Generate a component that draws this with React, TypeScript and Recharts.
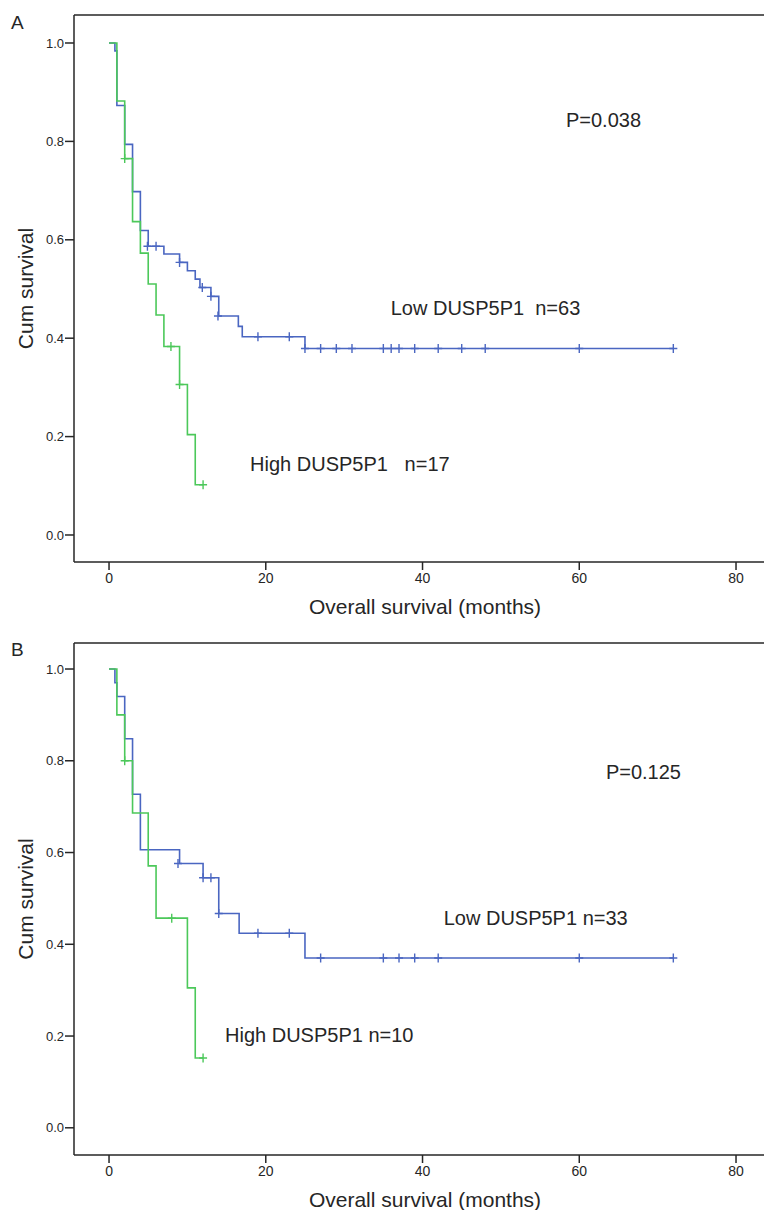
import { ComposedChart, Line, Scatter, XAxis, YAxis } from 'recharts'

const FONT = 'Liberation Sans, Arial, sans-serif'
const BLUE = '#4a66c1'
const GREEN = '#4cc85a'
const INK = '#262626'

const monthTicks = [0, 20, 40, 60, 80]
const survTicks = [0, 0.2, 0.4, 0.6, 0.8, 1.0]
const monthDomain = [-4.47, 83.57]

// panel A, low DUSP5P1 (n=63)
const lowATimes = [0, 0.75, 1, 2, 3, 4, 5, 7, 9, 10, 11, 11.6, 13, 14, 16.5, 17, 25, 72]
const lowASurv = [1.0, 0.984, 0.873, 0.794, 0.698, 0.619, 0.587, 0.571, 0.554, 0.537, 0.52, 0.503, 0.485, 0.445, 0.424, 0.403, 0.379, 0.379]
const lowACensorTimes = [4.9, 6, 9, 11.9, 13, 13.9, 19, 23, 25, 27, 29, 31, 35, 36, 37, 39, 42, 45, 48, 60, 72]
const lowACensorSurv = [0.587, 0.587, 0.554, 0.503, 0.485, 0.445, 0.403, 0.403, 0.379, 0.379, 0.379, 0.379, 0.379, 0.379, 0.379, 0.379, 0.379, 0.379, 0.379, 0.379, 0.379]

// panel A, high DUSP5P1 (n=17)
const highATimes = [0, 1, 2, 3, 4, 5, 6, 7, 9, 10, 11, 12]
const highASurv = [1.0, 0.882, 0.765, 0.637, 0.573, 0.51, 0.447, 0.383, 0.306, 0.204, 0.102, 0.102]
const highACensorTimes = [2, 7.9, 9, 12]
const highACensorSurv = [0.765, 0.383, 0.306, 0.102]

// panel B, low DUSP5P1 (n=33)
const lowBTimes = [0, 0.75, 1, 2, 3, 4, 9, 12, 14, 16.6, 25, 72]
const lowBSurv = [1.0, 0.97, 0.94, 0.848, 0.727, 0.606, 0.576, 0.545, 0.467, 0.424, 0.37, 0.37]
const lowBCensorTimes = [8.8, 12, 13, 14, 19, 23, 27, 35, 37, 39, 42, 60, 72]
const lowBCensorSurv = [0.576, 0.545, 0.545, 0.467, 0.424, 0.424, 0.37, 0.37, 0.37, 0.37, 0.37, 0.37, 0.37]

// panel B, high DUSP5P1 (n=10)
const highBTimes = [0, 1, 2, 3, 5, 6, 10, 11, 12]
const highBSurv = [1.0, 0.9, 0.8, 0.686, 0.571, 0.457, 0.305, 0.152, 0.152]
const highBCensorTimes = [2, 8, 12]
const highBCensorSurv = [0.8, 0.457, 0.152]

const toPoints = (t: number[], s: number[]) => t.map((v, i) => ({ t: v, s: s[i] }))

const cross = (color: string) => (p: any) => (
  <path
    d={`M${p.cx - 4},${p.cy}h8M${p.cx},${p.cy - 4.5}v9`}
    stroke={color}
    strokeWidth={1.4}
    fill="none"
  />
)

const note = (text: string) => (p: any) => (
  <text x={p.cx} y={p.cy} fontSize={20} fill={INK} fontFamily={FONT} style={{ whiteSpace: 'pre' }}>
    {text}
  </text>
)

interface Note {
  t: number
  s: number
  text: string
}

interface PanelProps {
  top: number
  height: number
  marginTop: number
  axisHeight: number
  yDomain: number[]
  low: { t: number; s: number }[]
  high: { t: number; s: number }[]
  lowCensor: { t: number; s: number }[]
  highCensor: { t: number; s: number }[]
  notes: Note[]
}

function Panel({ top, height, marginTop, axisHeight, yDomain, low, high, lowCensor, highCensor, notes }: PanelProps) {
  return (
    <div style={{ position: 'absolute', left: 0, top }}>
      <ComposedChart width={764} height={height} margin={{ top: marginTop - 1, right: 0, bottom: 0, left: 0 }}>
        <XAxis
          xAxisId="top"
          orientation="top"
          type="number"
          dataKey="t"
          domain={monthDomain}
          allowDataOverflow
          height={1}
          tick={false}
          tickLine={false}
          axisLine={{ stroke: INK, strokeWidth: 1.5 }}
        />
        <XAxis
          type="number"
          dataKey="t"
          domain={monthDomain}
          ticks={monthTicks}
          allowDataOverflow
          height={axisHeight}
          tickSize={8}
          tickMargin={3}
          tick={{ fontSize: 14, fill: INK, fontFamily: FONT }}
          tickLine={{ stroke: INK, strokeWidth: 1.5 }}
          axisLine={{ stroke: INK, strokeWidth: 1.5 }}
          label={{
            content: (p: any) => {
              const vb = p.viewBox
              return (
                <text x={vb.x + vb.width / 2 + 6} y={vb.y + 52} textAnchor="middle" fontSize={21} fill={INK} fontFamily={FONT}>
                  Overall survival (months)
                </text>
              )
            },
          }}
        />
        <YAxis
          type="number"
          dataKey="s"
          domain={yDomain}
          ticks={survTicks}
          allowDataOverflow
          width={74}
          tickSize={9}
          tickMargin={1}
          tickFormatter={(v: number) => v.toFixed(1)}
          tick={{ fontSize: 13, fill: INK, fontFamily: FONT }}
          tickLine={{ stroke: INK, strokeWidth: 1.5 }}
          axisLine={{ stroke: INK, strokeWidth: 1.5 }}
          label={{
            content: (p: any) => {
              const vb = p.viewBox
              const cy = vb.y + vb.height / 2
              return (
                <text x={33} y={cy} transform={`rotate(-90, 33, ${cy})`} textAnchor="middle" fontSize={21} fill={INK} fontFamily={FONT}>
                  Cum survival
                </text>
              )
            },
          }}
        />
        <Line data={low} dataKey="s" type="stepAfter" stroke={BLUE} strokeWidth={1.6} dot={false} isAnimationActive={false} />
        <Line data={high} dataKey="s" type="stepAfter" stroke={GREEN} strokeWidth={1.6} dot={false} isAnimationActive={false} />
        <Scatter data={lowCensor} dataKey="s" shape={cross(BLUE)} isAnimationActive={false} />
        <Scatter data={highCensor} dataKey="s" shape={cross(GREEN)} isAnimationActive={false} />
        {notes.map((n) => (
          <Scatter key={n.text} data={[{ t: n.t, s: n.s }]} dataKey="s" shape={note(n.text)} isAnimationActive={false} />
        ))}
      </ComposedChart>
    </div>
  )
}

const notesA: Note[] = [
  { t: 58.3, s: 0.83, text: 'P=0.038' },
  { t: 35.94, s: 0.447, text: 'Low DUSP5P1  n=63' },
  { t: 18.0, s: 0.13, text: 'High DUSP5P1   n=17' },
]

const notesB: Note[] = [
  { t: 63.4, s: 0.761, text: 'P=0.125' },
  { t: 42.7, s: 0.442, text: 'Low DUSP5P1 n=33' },
  { t: 14.8, s: 0.188, text: 'High DUSP5P1 n=10' },
]

export default function App() {
  return (
    <div style={{ position: 'absolute', left: 0, top: 0, width: 764, height: 1210, background: '#fff', overflow: 'hidden' }}>
      <Panel
        top={0}
        height={620}
        marginTop={15}
        axisHeight={58}
        yDomain={[-0.0549, 1.0569]}
        low={toPoints(lowATimes, lowASurv)}
        high={toPoints(highATimes, highASurv)}
        lowCensor={toPoints(lowACensorTimes, lowACensorSurv)}
        highCensor={toPoints(highACensorTimes, highACensorSurv)}
        notes={notesA}
      />
      <Panel
        top={620}
        height={590}
        marginTop={23}
        axisHeight={55}
        yDomain={[-0.0593, 1.0567]}
        low={toPoints(lowBTimes, lowBSurv)}
        high={toPoints(highBTimes, highBSurv)}
        lowCensor={toPoints(lowBCensorTimes, lowBCensorSurv)}
        highCensor={toPoints(highBCensorTimes, highBCensorSurv)}
        notes={notesB}
      />
      <svg width={764} height={1210} style={{ position: 'absolute', left: 0, top: 0, pointerEvents: 'none' }}>
        <text x={11} y={29} fontSize={19} fill={INK} fontFamily={FONT}>A</text>
        <text x={11} y={656} fontSize={19} fill={INK} fontFamily={FONT}>B</text>
      </svg>
    </div>
  )
}
